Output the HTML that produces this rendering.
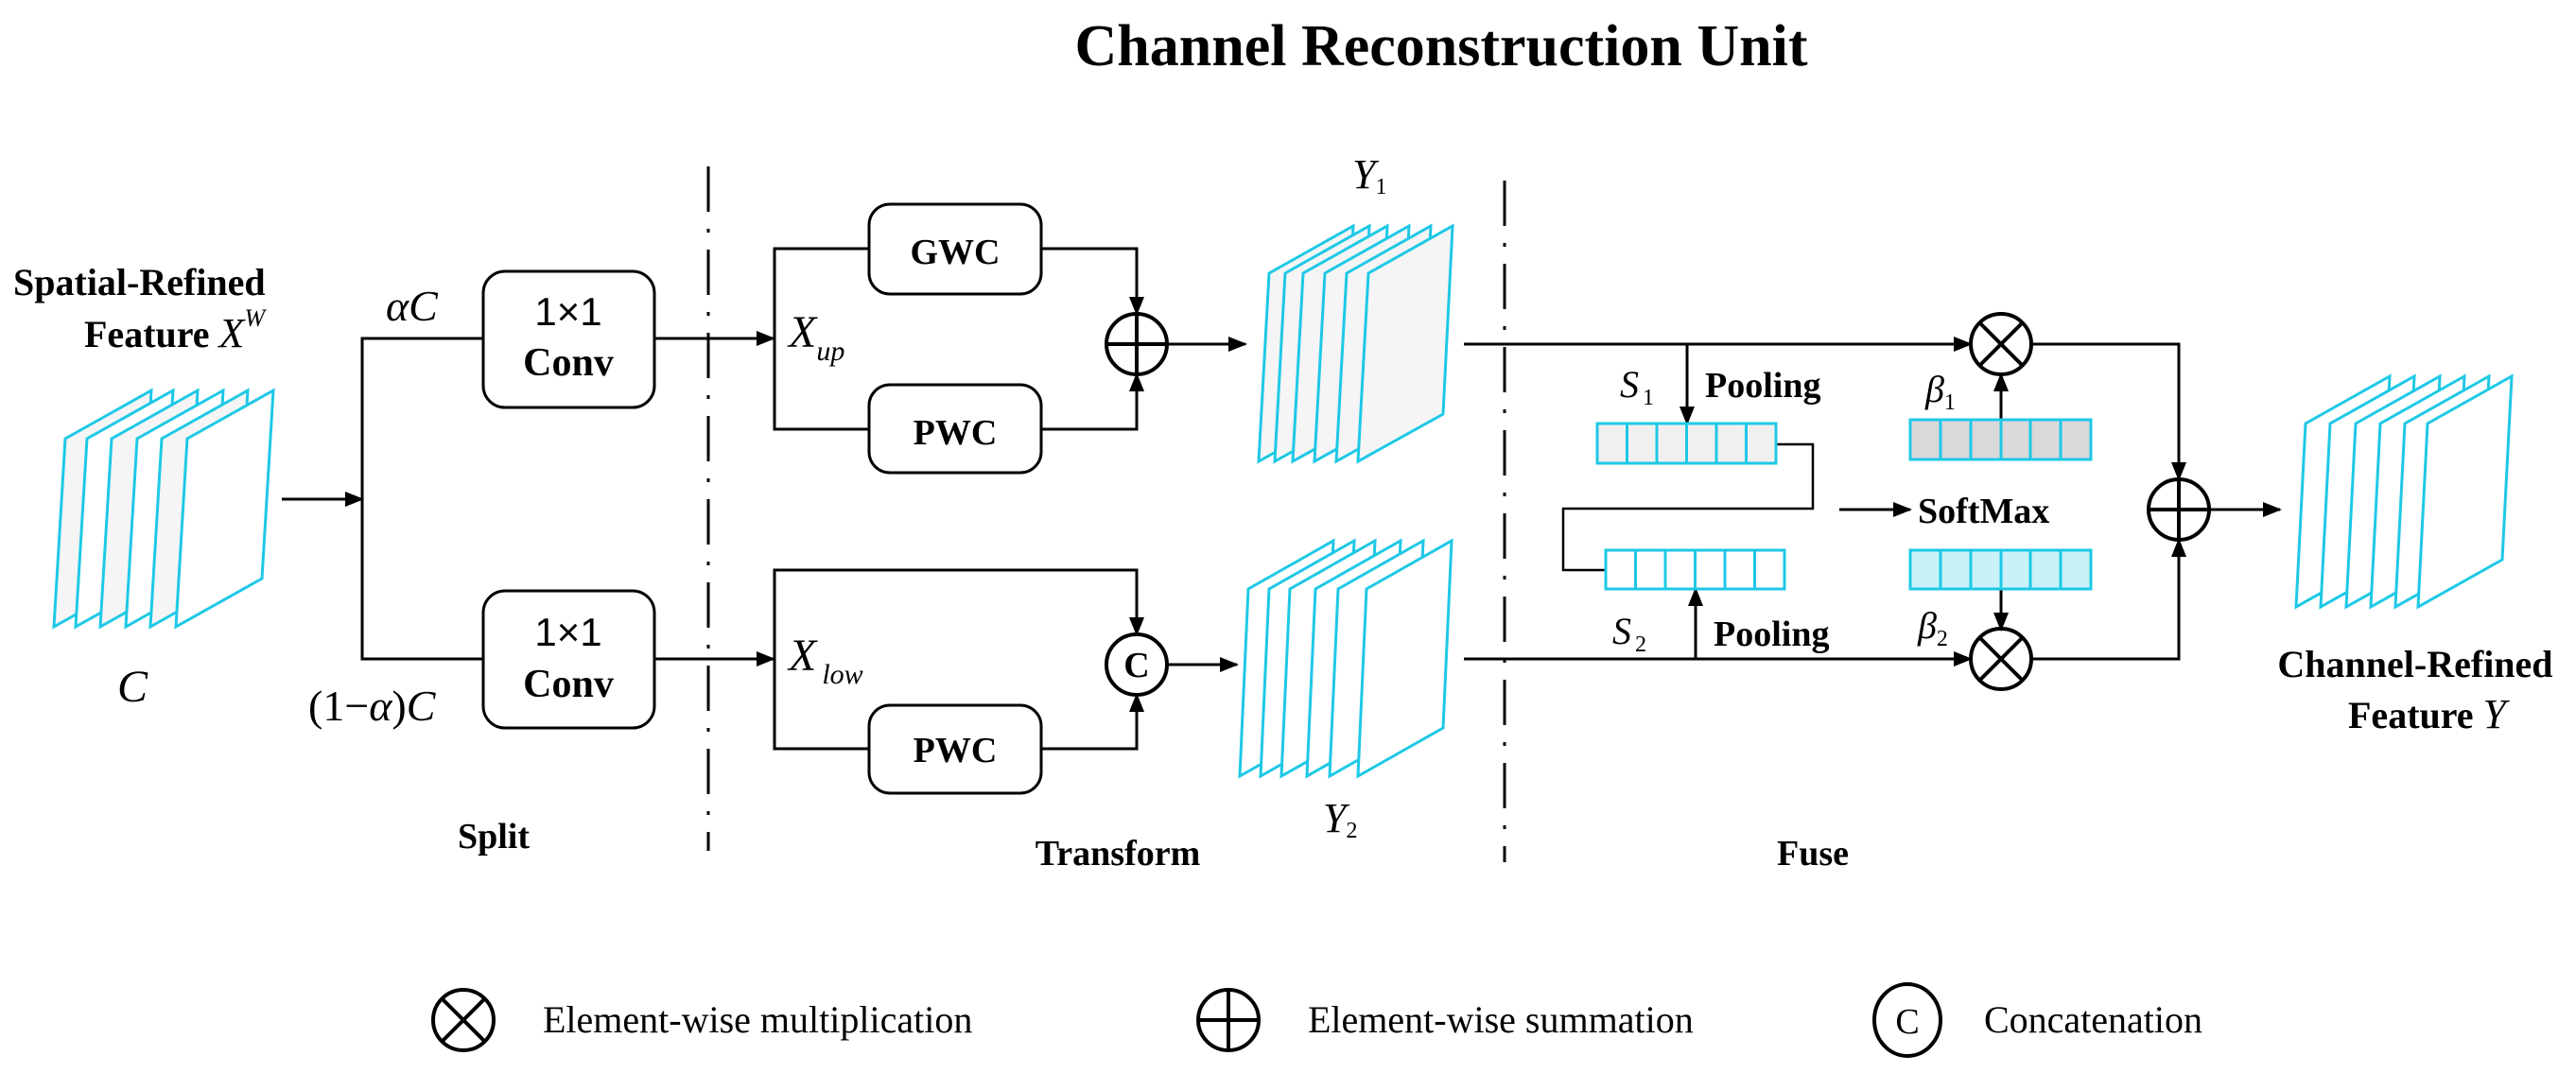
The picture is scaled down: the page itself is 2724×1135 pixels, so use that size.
<!DOCTYPE html>
<html><head><meta charset="utf-8"><style>
html,body{margin:0;padding:0;background:#fff}
svg{display:block}
.b{font-family:"Liberation Serif",serif;font-weight:bold}
.i{font-family:"Liberation Serif",serif;font-style:italic}
.s{font-family:"Liberation Sans",sans-serif}
.r{font-family:"Liberation Serif",serif}
</style></head><body>
<svg width="2724" height="1135" viewBox="0 0 2724 1135" xmlns="http://www.w3.org/2000/svg">
<defs>
<marker id="a" markerWidth="20" markerHeight="16" refX="18" refY="8" orient="auto" markerUnits="userSpaceOnUse">
<path d="M0,0 L20,8 L0,16 z" fill="#000"/></marker>
</defs>
<text x="1524" y="69" class="b" font-size="62" text-anchor="middle">Channel Reconstruction Unit</text>

<!-- input stack -->
<g stroke="#1ec8e6" stroke-width="3" stroke-linejoin="miter">
<polygon points="57,663 69,464 160,413 148,612" fill="#f5f5f5"/>
<polygon points="80,663 92,464 183,413 171,612" fill="#fff"/>
<polygon points="106,663 118,464 209,413 197,612" fill="#f5f5f5"/>
<polygon points="133,663 145,464 236,413 224,612" fill="#fff"/>
<polygon points="159,663 171,464 262,413 250,612" fill="#f5f5f5"/>
<polygon points="186,663 198,464 289,413 277,612" fill="#fff"/>
<!-- Y1 -->
<polygon points="1331,488 1342,289 1431,239 1421,438" fill="#f5f5f5"/>
<polygon points="1348,488 1359,289 1448,239 1438,438" fill="#f5f5f5"/>
<polygon points="1367,488 1378,289 1467,239 1457,438" fill="#f5f5f5"/>
<polygon points="1390,488 1401,289 1490,239 1480,438" fill="#f5f5f5"/>
<polygon points="1413,488 1424,289 1513,239 1503,438" fill="#f5f5f5"/>
<polygon points="1436,488 1447,289 1536,239 1526,438" fill="#f5f5f5"/>
<!-- Y2 -->
<polygon points="1311,821 1320,623 1410,572 1401,770" fill="#fff"/>
<polygon points="1333,821 1342,623 1432,572 1423,770" fill="#fff"/>
<polygon points="1355,821 1364,623 1454,572 1445,770" fill="#fff"/>
<polygon points="1382,821 1391,623 1481,572 1472,770" fill="#fff"/>
<polygon points="1406,821 1415,623 1505,572 1496,770" fill="#fff"/>
<polygon points="1436,821 1445,623 1535,572 1526,770" fill="#fff"/>
<!-- output -->
<polygon points="2428,642 2438,448 2527,398 2517,592" fill="#fff"/>
<polygon points="2454,642 2464,448 2553,398 2543,592" fill="#fff"/>
<polygon points="2481,642 2491,448 2580,398 2570,592" fill="#fff"/>
<polygon points="2507,642 2517,448 2606,398 2596,592" fill="#fff"/>
<polygon points="2533,642 2543,448 2632,398 2622,592" fill="#fff"/>
<polygon points="2557,642 2567,448 2656,398 2646,592" fill="#fff"/>
</g>

<text x="14" y="312" class="b" font-size="40">Spatial-Refined</text>
<text x="89" y="367" class="b" font-size="40">Feature <tspan class="i" font-weight="normal" font-size="44">X</tspan><tspan class="i" font-weight="normal" font-size="26" dy="-22">W</tspan></text>
<text x="124" y="742" class="i" font-size="48">C</text>

<g stroke="#000" stroke-width="3" fill="none">
<line x1="298" y1="528" x2="383" y2="528" marker-end="url(#a)"/>
<polyline points="511,358 383,358 383,697 511,697"/>
<rect x="511" y="287" width="181" height="144" rx="23" fill="#fff"/>
<rect x="511" y="625" width="181" height="145" rx="23" fill="#fff"/>
<line x1="692" y1="358" x2="818" y2="358" marker-end="url(#a)"/>
<line x1="692" y1="697" x2="818" y2="697" marker-end="url(#a)"/>
<!-- dash dot lines -->
<line x1="749" y1="176" x2="749" y2="900" stroke-dasharray="48 18 4 18"/>
<line x1="1591" y1="191" x2="1591" y2="912" stroke-dasharray="48 18 4 18"/>
<!-- upper transform -->
<polyline points="919,263 819,263 819,454 919,454"/>
<rect x="919" y="216" width="182" height="95" rx="22" fill="#fff"/>
<rect x="919" y="407" width="182" height="93" rx="22" fill="#fff"/>
<polyline points="1101,263 1202,263 1202,332" marker-end="url(#a)"/>
<polyline points="1101,454 1202,454 1202,396" marker-end="url(#a)"/>
<circle cx="1202" cy="364" r="32" stroke-width="4"/>
<line x1="1170" y1="364" x2="1234" y2="364" stroke-width="4"/>
<line x1="1202" y1="332" x2="1202" y2="396" stroke-width="4"/>
<line x1="1234" y1="364" x2="1317" y2="364" marker-end="url(#a)"/>
<!-- lower transform -->
<polyline points="819,697 819,603 1202,603 1202,671" marker-end="url(#a)"/>
<polyline points="919,792 819,792 819,697"/>
<rect x="919" y="746" width="182" height="93" rx="22" fill="#fff"/>
<polyline points="1101,792 1202,792 1202,735" marker-end="url(#a)"/>
<circle cx="1202" cy="703" r="32" stroke-width="4"/>
<line x1="1234" y1="703" x2="1308" y2="703" marker-end="url(#a)"/>
<!-- fuse -->
<line x1="1548" y1="364" x2="2084" y2="364" marker-end="url(#a)"/>
<line x1="1548" y1="697" x2="2084" y2="697" marker-end="url(#a)"/>
<line x1="1784" y1="364" x2="1784" y2="448" marker-end="url(#a)"/>
<line x1="1793" y1="697" x2="1793" y2="623" marker-end="url(#a)"/>
<polyline points="1878,470 1917,470 1917,538 1653,538 1653,603 1698,603" stroke-width="2.5"/>
<line x1="1945" y1="539" x2="2020" y2="539" marker-end="url(#a)"/>
<line x1="2116" y1="444" x2="2116" y2="396" marker-end="url(#a)"/>
<line x1="2116" y1="623" x2="2116" y2="666" marker-end="url(#a)"/>
<circle cx="2116" cy="364" r="32" stroke-width="4"/>
<line x1="2093" y1="341" x2="2139" y2="387" stroke-width="4"/>
<line x1="2139" y1="341" x2="2093" y2="387" stroke-width="4"/>
<circle cx="2116" cy="697" r="32" stroke-width="4"/>
<line x1="2093" y1="674" x2="2139" y2="720" stroke-width="4"/>
<line x1="2139" y1="674" x2="2093" y2="720" stroke-width="4"/>
<polyline points="2148,364 2304,364 2304,507" marker-end="url(#a)"/>
<polyline points="2148,697 2304,697 2304,571" marker-end="url(#a)"/>
<circle cx="2304" cy="539" r="32" stroke-width="4"/>
<line x1="2272" y1="539" x2="2336" y2="539" stroke-width="4"/>
<line x1="2304" y1="507" x2="2304" y2="571" stroke-width="4"/>
<line x1="2336" y1="539" x2="2411" y2="539" marker-end="url(#a)"/>
</g>

<!-- bars -->
<g stroke="#1ec8e6" stroke-width="3">
<rect x="1689" y="448" width="189" height="42" fill="#f0f0f0"/>
<path d="M1720.5,448v42M1752,448v42M1783.5,448v42M1815,448v42M1846.5,448v42"/>
<rect x="1698" y="582" width="189" height="41" fill="#fff"/>
<path d="M1729.5,582v41M1761,582v41M1792.5,582v41M1824,582v41M1855.5,582v41"/>
<rect x="2020" y="444" width="191" height="42" fill="#d9d9d9"/>
<path d="M2052,444v42M2084,444v42M2116,444v42M2147,444v42M2179,444v42"/>
<rect x="2020" y="582" width="191" height="41" fill="#c8f2f8"/>
<path d="M2052,582v41M2084,582v41M2116,582v41M2147,582v41M2179,582v41"/>
</g>

<text x="601" y="344" class="s" font-size="42" text-anchor="middle">1×1</text>
<text x="601" y="397" class="b" font-size="42" text-anchor="middle">Conv</text>
<text x="601" y="683" class="s" font-size="42" text-anchor="middle">1×1</text>
<text x="601" y="737" class="b" font-size="42" text-anchor="middle">Conv</text>
<text x="408" y="339" class="i" font-size="46">αC</text>
<text x="326" y="762" class="r" font-size="46">(1−<tspan class="i">α</tspan>)<tspan class="i">C</tspan></text>
<text x="522" y="897" class="b" font-size="38" text-anchor="middle">Split</text>

<text x="1010" y="279" class="b" font-size="38" text-anchor="middle">GWC</text>
<text x="1010" y="470" class="b" font-size="38" text-anchor="middle">PWC</text>
<text x="1010" y="806" class="b" font-size="38" text-anchor="middle">PWC</text>
<text x="834" y="367" class="i" font-size="48">X<tspan font-size="30" dy="14">up</tspan></text>
<text x="834" y="709" class="i" font-size="48">X<tspan font-size="30" dy="14" dx="6">low</tspan></text>
<text x="1202" y="716" class="b" font-size="38" text-anchor="middle">C</text>
<text x="1430" y="199" class="i" font-size="44">Y<tspan class="r" font-style="normal" font-size="24" dy="6">1</tspan></text>
<text x="1399" y="880" class="i" font-size="44">Y<tspan class="r" font-style="normal" font-size="24" dy="6">2</tspan></text>
<text x="1182" y="915" class="b" font-size="38" text-anchor="middle">Transform</text>

<text x="1713" y="420" class="i" font-size="40">S<tspan class="r" font-style="normal" font-size="24" dy="8" dx="4">1</tspan></text>
<text x="1803" y="420" class="b" font-size="38">Pooling</text>
<text x="1705" y="681" class="i" font-size="40">S<tspan class="r" font-style="normal" font-size="24" dy="8" dx="4">2</tspan></text>
<text x="1812" y="683" class="b" font-size="38">Pooling</text>
<text x="2028" y="553" class="b" font-size="38">SoftMax</text>
<text x="2036" y="425" class="i" font-size="40">β<tspan class="r" font-style="normal" font-size="24" dy="8">1</tspan></text>
<text x="2028" y="675" class="i" font-size="40">β<tspan class="r" font-style="normal" font-size="24" dy="8">2</tspan></text>
<text x="1917" y="915" class="b" font-size="38" text-anchor="middle">Fuse</text>
<text x="2554" y="716" class="b" font-size="40" text-anchor="middle">Channel-Refined</text>
<text x="2483" y="770" class="b" font-size="40">Feature <tspan class="i" font-weight="normal" font-size="44">Y</tspan></text>

<!-- legend -->
<g stroke="#000" stroke-width="4" fill="none">
<circle cx="490" cy="1079" r="32"/>
<line x1="467" y1="1056" x2="513" y2="1102"/><line x1="513" y1="1056" x2="467" y2="1102"/>
<circle cx="1299" cy="1079" r="32"/>
<line x1="1267" y1="1079" x2="1331" y2="1079"/><line x1="1299" y1="1047" x2="1299" y2="1111"/>
<ellipse cx="2017" cy="1079" rx="35" ry="38"/>
</g>
<text x="574" y="1092" class="r" font-size="40">Element-wise multiplication</text>
<text x="1383" y="1092" class="r" font-size="40">Element-wise summation</text>
<text x="2017" y="1093" class="r" font-size="38" text-anchor="middle">C</text>
<text x="2098" y="1092" class="r" font-size="40">Concatenation</text>
</svg>
</body></html>
